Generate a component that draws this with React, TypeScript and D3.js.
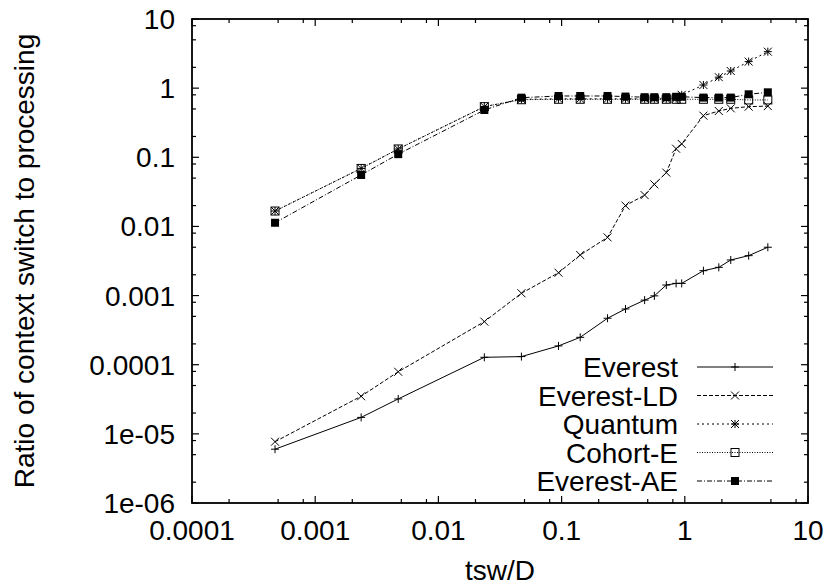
import React from "react";
import * as d3 from "d3";

const xValues = [0.000472, 0.00236, 0.00472, 0.0236, 0.0472, 0.0944, 0.1416, 0.236, 0.330, 0.472, 0.566, 0.708, 0.850, 0.944, 1.416, 1.888, 2.36, 3.30, 4.72];

const everest = [6.0e-6, 1.73e-5, 3.2e-5, 1.28e-4, 1.31e-4, 1.87e-4, 2.49e-4, 4.7e-4, 6.4e-4, 8.6e-4, 9.9e-4, 1.42e-3, 1.5e-3, 1.5e-3, 2.29e-3, 2.56e-3, 3.27e-3, 3.78e-3, 5.0e-3];
const everestLD = [7.7e-6, 3.5e-5, 7.9e-5, 4.2e-4, 1.08e-3, 2.14e-3, 3.86e-3, 6.95e-3, 0.020, 0.0284, 0.0406, 0.06, 0.133, 0.156, 0.40, 0.467, 0.51, 0.54, 0.55];
const quantum = [0.0167, 0.069, 0.132, 0.54, 0.69, 0.70, 0.70, 0.70, 0.70, 0.70, 0.70, 0.70, 0.71, 0.80, 1.11, 1.44, 1.77, 2.42, 3.37];
const cohortE = [0.0167, 0.069, 0.132, 0.54, 0.68, 0.69, 0.69, 0.69, 0.69, 0.69, 0.69, 0.69, 0.69, 0.69, 0.69, 0.69, 0.69, 0.675, 0.675];
const everestAE = [0.0113, 0.0555, 0.111, 0.483, 0.728, 0.77, 0.77, 0.77, 0.755, 0.74, 0.74, 0.74, 0.75, 0.75, 0.73, 0.73, 0.73, 0.815, 0.87];

const seriesNames = ["Everest", "Everest-LD", "Quantum", "Cohort-E", "Everest-AE"];
const seriesData = [everest, everestLD, quantum, cohortE, everestAE];
const dashes = ["", "4,2", "2,3", "1,1.5", "5,2,1,2"];
const markerTypes = ["plus", "cross", "star", "openSquare", "filledSquare"];

const xTickValues = [0.0001, 0.001, 0.01, 0.1, 1, 10];
const xTickLabels = ["0.0001", "0.001", "0.01", "0.1", "1", "10"];
const yTickValues = [1e-6, 1e-5, 1e-4, 1e-3, 1e-2, 0.1, 1, 10];
const yTickLabels = ["1e-06", "1e-05", "0.0001", "0.001", "0.01", "0.1", "1", "10"];
const minorMultipliers = [2, 5, 8];

const xLabel = "tsw/D";
const yLabel = "Ratio of context switch to processing";

const W = 830, H = 587;
const L = 192, R = 808, T = 19, B = 503;
const FONT = "'Liberation Sans', Arial, Helvetica, sans-serif";

function Marker({ type, x, y }: { type: string; x: number; y: number }) {
  const s = 4;
  const st = { stroke: "#000", strokeWidth: 1, fill: "none" };
  if (type === "plus") return <path d={`M${x - s},${y}H${x + s}M${x},${y - s}V${y + s}`} {...st} />;
  if (type === "cross") return <path d={`M${x - s},${y - s}L${x + s},${y + s}M${x - s},${y + s}L${x + s},${y - s}`} {...st} />;
  if (type === "star")
    return <path d={`M${x - s},${y}H${x + s}M${x},${y - s}V${y + s}M${x - s},${y - s}L${x + s},${y + s}M${x - s},${y + s}L${x + s},${y - s}`} {...st} />;
  if (type === "openSquare") return <rect x={x - s} y={y - s} width={2 * s} height={2 * s} {...st} />;
  return <rect x={x - s} y={y - s} width={2 * s} height={2 * s} fill="#000" />;
}

export default function App() {
  const x = d3.scaleLog().domain([1e-4, 10]).range([L, R]);
  const y = d3.scaleLog().domain([1e-6, 10]).range([B, T]);
  const line = d3.line<[number, number]>().x((d) => x(d[0])).y((d) => y(d[1]));

  const xMinor: number[] = [];
  for (let e = -4; e < 1; e++) minorMultipliers.forEach((m) => xMinor.push(m * Math.pow(10, e)));
  const yMinor: number[] = [];
  for (let e = -6; e < 1; e++) minorMultipliers.forEach((m) => yMinor.push(m * Math.pow(10, e)));

  const legendRowY = (i: number) => 367 + i * 28.5;

  return (
    <svg width={W} height={H} style={{ position: "absolute", left: 0, top: 0, background: "#fff" }} fontFamily={FONT}>
      <rect x={0} y={0} width={W} height={H} fill="#fff" />
      {/* ticks */}
      <g stroke="#000" strokeWidth={1.2}>
        {xTickValues.map((v, i) => (
          <g key={"xt" + i}>
            <line x1={x(v)} x2={x(v)} y1={B} y2={B - 7} />
            <line x1={x(v)} x2={x(v)} y1={T} y2={T + 7} />
          </g>
        ))}
        {xMinor.map((v, i) => (
          <g key={"xm" + i}>
            <line x1={x(v)} x2={x(v)} y1={B} y2={B - 4} />
            <line x1={x(v)} x2={x(v)} y1={T} y2={T + 4} />
          </g>
        ))}
        {yTickValues.map((v, i) => (
          <g key={"yt" + i}>
            <line x1={L} x2={L + 7} y1={y(v)} y2={y(v)} />
            <line x1={R} x2={R - 7} y1={y(v)} y2={y(v)} />
          </g>
        ))}
        {yMinor.map((v, i) => (
          <g key={"ym" + i}>
            <line x1={L} x2={L + 4} y1={y(v)} y2={y(v)} />
            <line x1={R} x2={R - 4} y1={y(v)} y2={y(v)} />
          </g>
        ))}
      </g>
      <rect x={L} y={T} width={R - L} height={B - T} fill="none" stroke="#000" strokeWidth={1.8} />
      {/* tick labels */}
      <g fontSize={28} fill="#000">
        {xTickValues.map((v, i) => (
          <text key={"xl" + i} x={x(v)} y={540} textAnchor="middle">{xTickLabels[i]}</text>
        ))}
        {yTickValues.map((v, i) => (
          <text key={"yl" + i} x={175} y={y(v) + 10} textAnchor="end">{yTickLabels[i]}</text>
        ))}
        <text x={(L + R) / 2} y={580} textAnchor="middle">{xLabel}</text>
        <text transform={`translate(34,${(T + B) / 2}) rotate(-90)`} textAnchor="middle">{yLabel}</text>
      </g>
      {/* series */}
      {seriesData.map((vals, si) => {
        const pts = xValues.map((xv, i) => [xv, vals[i]] as [number, number]);
        return (
          <g key={"s" + si}>
            <path d={line(pts) || ""} fill="none" stroke="#000" strokeWidth={1} strokeDasharray={dashes[si]} />
            {pts.map((p, i) => (
              <Marker key={i} type={markerTypes[si]} x={x(p[0])} y={y(p[1])} />
            ))}
          </g>
        );
      })}
      {/* legend */}
      <g fontSize={28}>
        {seriesNames.map((n, i) => (
          <g key={"lg" + i}>
            <text x={678} y={legendRowY(i) + 10} textAnchor="end">{n}</text>
            <line x1={697} x2={773} y1={legendRowY(i)} y2={legendRowY(i)} stroke="#000" strokeWidth={1} strokeDasharray={dashes[i]} />
            <Marker type={markerTypes[i]} x={735} y={legendRowY(i)} />
          </g>
        ))}
      </g>
    </svg>
  );
}
